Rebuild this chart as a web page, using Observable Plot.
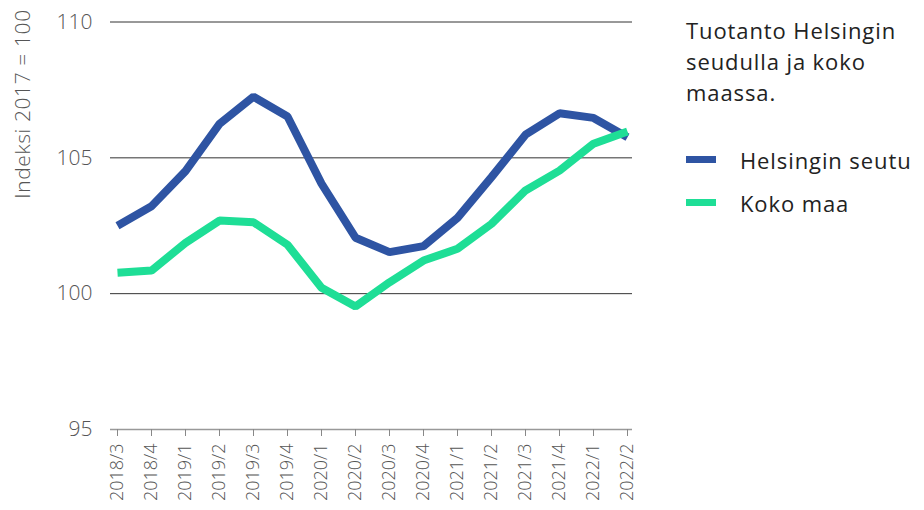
<!DOCTYPE html>
<html><head><meta charset="utf-8">
<script src="https://cdn.jsdelivr.net/npm/d3@7"></script>
<script src="https://cdn.jsdelivr.net/npm/@observablehq/plot@0.6"></script>
<style>
body{margin:0;background:#fff;font-family:"Open Sans",sans-serif;}
#wrap{position:relative;width:924px;height:510px;overflow:hidden;}
#legend{position:absolute;left:686px;top:15px;width:238px;color:#222;font-size:22px;letter-spacing:0.9px;}
#legend .title{line-height:31px;}
#legend .item{display:flex;align-items:center;height:43px;}
#legend .sw{width:30px;height:7px;margin-right:24px;}
#ylabel{position:absolute;left:22px;top:104px;transform:translate(-50%,-50%) rotate(-90deg);white-space:nowrap;font-size:21px;letter-spacing:0.6px;font-weight:300;color:#555;}
</style></head><body>
<div id="wrap"><div id="chart"></div><div id="ylabel"></div><div id="legend"></div></div>
<script>
const quarters = ["2018/3","2018/4","2019/1","2019/2","2019/3","2019/4","2020/1","2020/2","2020/3","2020/4","2021/1","2021/2","2021/3","2021/4","2022/1","2022/2"];
const helsinki = [102.5,103.22,104.51,106.25,107.25,106.52,104.05,102.06,101.53,101.75,102.79,104.29,105.85,106.64,106.47,105.76];
const kokoMaa  = [100.77,100.85,101.87,102.69,102.63,101.8,100.22,99.53,100.42,101.22,101.65,102.57,103.8,104.53,105.52,105.97];
const seriesNames = ["Helsingin seutu","Koko maa"];
const seriesColors = ["#2E54A3","#1EDE96"];
const yTicks = [95,100,105,110];
const yLabel = "Indeksi 2017 = 100";
const titleLines = ["Tuotanto Helsingin","seudulla ja koko","maassa."];

const data = [];
[helsinki, kokoMaa].forEach((vals, i) => vals.forEach((v, j) => data.push({q: quarters[j], v, s: seriesNames[i]})));

const chart = Plot.plot({
  width: 924, height: 510,
  marginLeft: 110, marginRight: 292, marginTop: 21.5, marginBottom: 81,
  x: {type: "point", domain: quarters, range: [116, 628], padding: 0, label: null},
  y: {domain: [95, 110], range: [429, 21.5], label: null},
  color: {domain: seriesNames, range: seriesColors},
  style: {fontFamily: "'Open Sans', sans-serif", background: "transparent", color: "#555"},
  marks: [
    Plot.ruleY(yTicks.slice(1), {stroke: "#333", strokeWidth: 1}),
    Plot.ruleY([yTicks[0]], {stroke: "#999", strokeWidth: 1.5}),
    Plot.axisY({ticks: yTicks, tickSize: 0, tickPadding: 18, fontSize: 21, fontWeight: 300, fill: "#555", label: null}),
    Plot.axisX({tickRotate: -90, tickSize: 7, tickPadding: 7, fontSize: 18, fontWeight: 300, fill: "#555", stroke: "#888", label: null}),
    Plot.line(data, {x: "q", y: "v", z: "s", stroke: "s", strokeWidth: 8, strokeLinecap: "butt", strokeLinejoin: "miter"})
  ]
});
document.getElementById("chart").appendChild(chart);
document.getElementById("ylabel").textContent = yLabel;

const lg = document.getElementById("legend");
const t = document.createElement("div");
t.className = "title";
t.innerHTML = titleLines.join("<br>");
t.style.marginBottom = "30px";
lg.appendChild(t);
seriesNames.forEach((n, i) => {
  const it = document.createElement("div");
  it.className = "item";
  const sw = document.createElement("span");
  sw.className = "sw"; sw.style.background = seriesColors[i];
  const tx = document.createElement("span");
  tx.textContent = n;
  it.appendChild(sw); it.appendChild(tx);
  lg.appendChild(it);
});
</script>
</body></html>
